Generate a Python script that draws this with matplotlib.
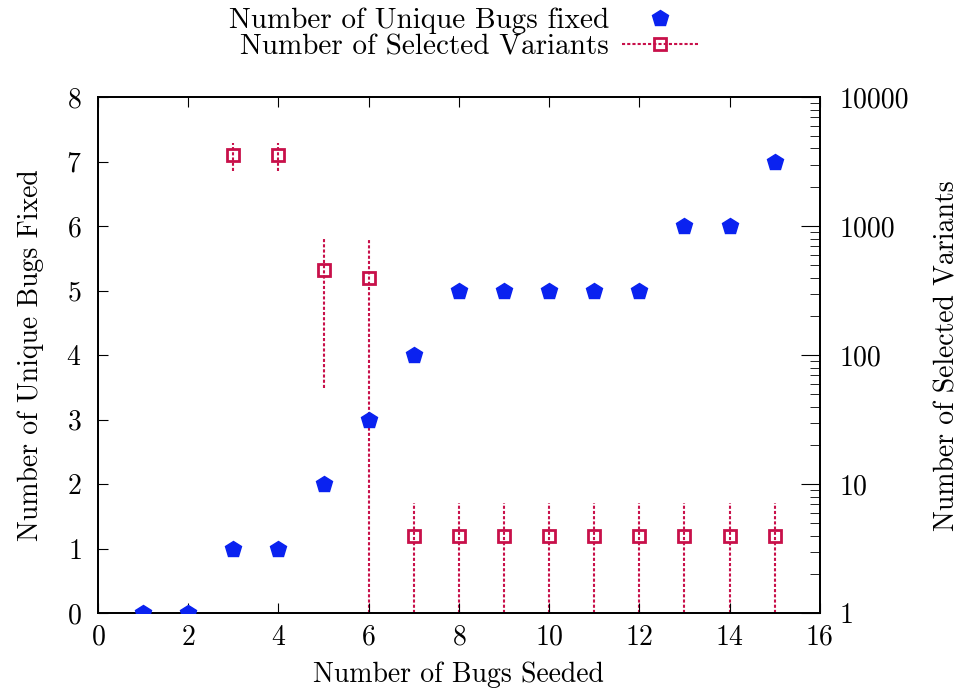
import matplotlib.pyplot as plt
from matplotlib.lines import Line2D

plt.rcParams['font.family'] = 'serif'
plt.rcParams['font.serif'] = ['cmr10', 'DejaVu Serif']
plt.rcParams['axes.formatter.use_mathtext'] = True

# ---- data ----
seeded = [1, 2, 3, 4, 5, 6, 7, 8, 9, 10, 11, 12, 13, 14, 15]
fixed = [0, 0, 1, 1, 2, 3, 4, 5, 5, 5, 5, 5, 6, 6, 7]

var_x = [3, 4, 5, 6, 7, 8, 9, 10, 11, 12, 13, 14, 15]
variants = [3550, 3550, 455, 395, 3.95, 3.95, 3.95, 3.95, 3.95, 3.95, 3.95, 3.95, 3.95]
var_lo = [2680, 2680, 56, 1, 1, 1, 1, 1, 1, 1, 1, 1, 1]
var_hi = [4400, 4400, 810, 810, 7.1, 7.1, 7.1, 7.1, 7.1, 7.1, 7.1, 7.1, 7.1]

blue = '#0a22f0'
red = '#c8104a'
fs = 20

fig = plt.figure(figsize=(9.61, 6.89), dpi=100)
ax = fig.add_axes([0.102, 0.110, 0.751, 0.749])
ax2 = ax.twinx()

ax.plot(seeded, fixed, linestyle='none', marker='p', markersize=12,
        color=blue, zorder=5)
ax.set_zorder(ax2.get_zorder() + 1)
ax.patch.set_visible(False)

err_lo = [v - l for v, l in zip(variants, var_lo)]
err_hi = [h - v for v, h in zip(variants, var_hi)]
eb = ax2.errorbar(var_x, variants, yerr=[err_lo, err_hi], fmt='s',
                  markersize=8, mfc='none', mec=red, mew=2, ecolor=red,
                  elinewidth=1.5, capsize=0)
eb[2][0].set_linestyle((0, (1.5, 1)))

ax.set_xlim(0, 16)
ax.set_ylim(0, 8)
ax2.set_yscale('log')
ax2.set_ylim(1, 10000)

ax.set_xticks(range(0, 17, 2))
ax.set_yticks(range(0, 9))
ax.tick_params(axis='x', direction='in', top=True, length=7, labelsize=fs, pad=8)
ax.tick_params(axis='y', direction='in', right=False, length=7, labelsize=fs, pad=12)
ax2.tick_params(axis='y', which='major', direction='in', length=14, labelsize=fs, pad=14)
ax2.tick_params(axis='y', which='minor', direction='in', length=7)
ax2.set_yticks([1, 10, 100, 1000, 10000])
ax2.set_yticklabels(['1', '10', '100', '1000', '10000'])

for a in (ax, ax2):
    for s in a.spines.values():
        s.set_linewidth(1.3)

ax.set_xlabel('Number of Bugs Seeded', fontsize=fs, labelpad=8)
ax.set_ylabel('Number of Unique Bugs Fixed', fontsize=fs, labelpad=16)
ax2.set_ylabel('Number of Selected Variants', fontsize=fs, rotation=90, labelpad=18)

h1 = Line2D([], [], linestyle='none', marker='p', markersize=12, color=blue)
h2 = Line2D([], [], linestyle=(0, (1.5, 1)), linewidth=1.5, color=red,
            marker='s', markersize=8, mfc='none', mec=red, mew=2)
fig.legend([h1, h2], ['Number of Unique Bugs fixed', 'Number of Selected Variants'],
           loc='upper center', bbox_to_anchor=(0.482, 1.027), frameon=False,
           markerfirst=False, fontsize=21, handlelength=2.6, labelspacing=0.0,
           handletextpad=0.45)

fig.savefig('out.png', dpi=100)
